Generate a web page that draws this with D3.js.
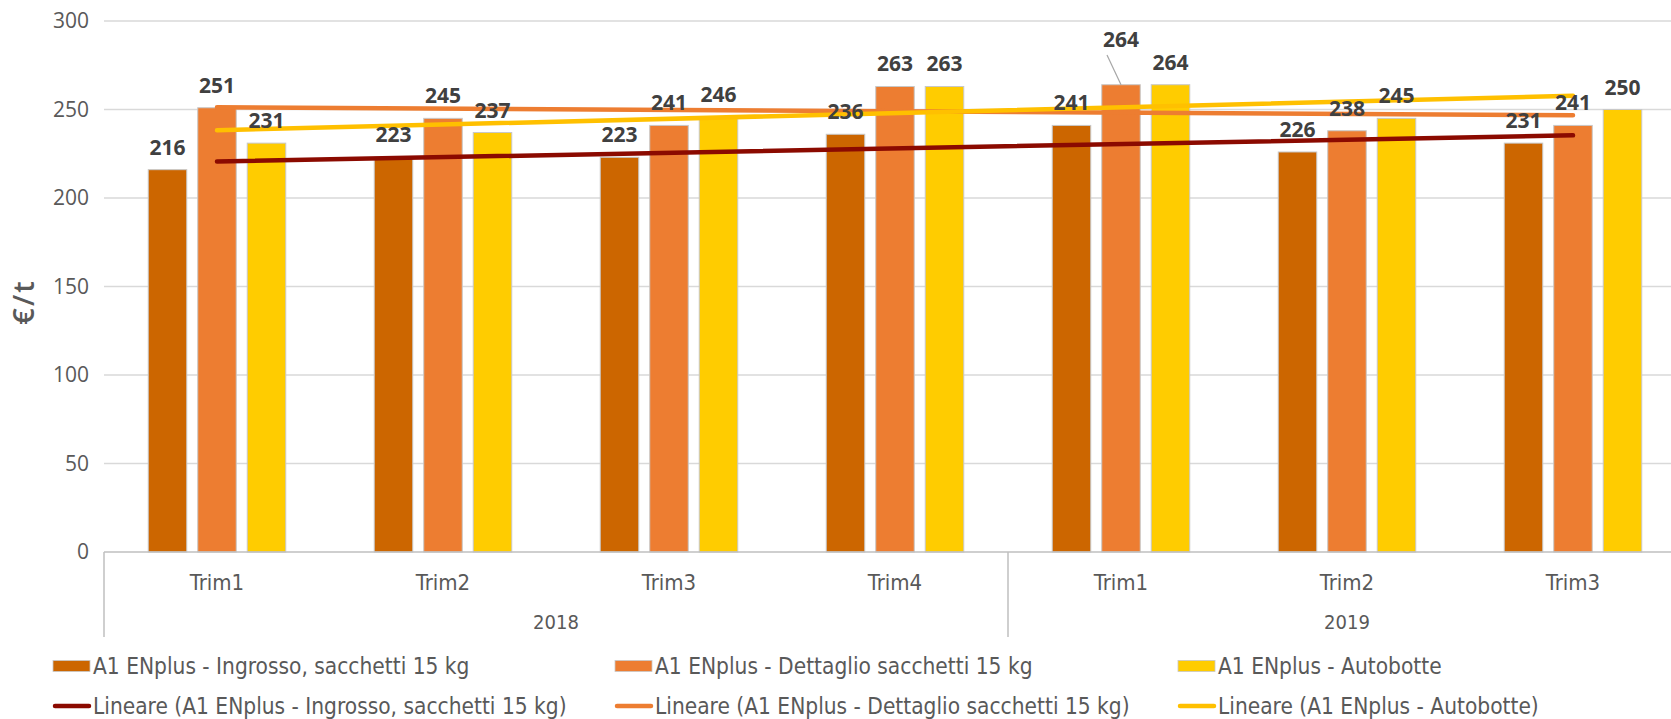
<!DOCTYPE html>
<html>
<head>
<meta charset="utf-8">
<script src="https://cdn.jsdelivr.net/npm/d3@7"></script>
<style>
  html, body { margin: 0; padding: 0; background: #fff; }
  svg { display: block; }
</style>
</head>
<body>
<svg id="chart" width="1671" height="719"></svg>
<script>
// ---- data ----
const quarters = ["Trim1", "Trim2", "Trim3", "Trim4", "Trim1", "Trim2", "Trim3"];
const years = ["2018", "2018", "2018", "2018", "2019", "2019", "2019"];
const seriesNames = [
  "A1 ENplus - Ingrosso, sacchetti 15 kg",
  "A1 ENplus - Dettaglio sacchetti 15 kg",
  "A1 ENplus - Autobotte"
];
const ingrosso  = [216, 223, 223, 236, 241, 226, 231];
const dettaglio = [251, 245, 241, 263, 264, 238, 241];
const autobotte = [231, 237, 246, 263, 264, 245, 250];
const yTicks = [0, 50, 100, 150, 200, 250, 300];
const trendNames = [
  "Lineare (A1 ENplus - Ingrosso, sacchetti 15 kg)",
  "Lineare (A1 ENplus - Dettaglio sacchetti 15 kg)",
  "Lineare (A1 ENplus - Autobotte)"
];
const barColors = ["#CC6600", "#ED7D31", "#FFCC00"];
const trendColors = ["#8B0A00", "#ED7D31", "#FFC000"];

const allSeries = [ingrosso, dettaglio, autobotte];

// ---- layout ----
const svg = d3.select("#chart");
const left = 104, band = 226;
const x = d3.scaleBand().domain(d3.range(quarters.length))
  .range([left, left + band * quarters.length]).paddingInner(0).paddingOuter(0);
const y = d3.scaleLinear().domain([0, 300]).range([552, 21]);
const inner = d3.scaleBand().domain(d3.range(3)).range([-68.75, 68.75]).paddingInner(11 / 49.5).paddingOuter(0);

// gridlines
svg.append("g").selectAll("line").data(yTicks.filter(d => d > 0)).join("line")
  .attr("x1", left).attr("x2", 1671)
  .attr("y1", d => y(d)).attr("y2", d => y(d))
  .attr("stroke", "#D9D9D9").attr("stroke-width", 1.5);

// y tick labels
svg.append("g").selectAll("text").data(yTicks).join("text")
  .attr("x", 89).attr("y", d => y(d)).attr("dy", "0.35em")
  .attr("text-anchor", "end")
  .attr("font-family", "Open Sans, sans-serif").attr("font-size", 21)
  .attr("fill", "#595959").text(d => d);

// y title
svg.append("text")
  .attr("transform", "translate(34,302) rotate(-90)")
  .attr("text-anchor", "middle")
  .attr("font-family", "Open Sans, sans-serif").attr("font-size", 29).attr("font-weight", 600)
  .attr("letter-spacing", 2)
  .attr("fill", "#595959").text("€/t");

// bars
allSeries.forEach((vals, s) => {
  svg.append("g").selectAll("rect").data(vals).join("rect")
    .attr("x", (d, i) => x(i) + x.bandwidth() / 2 + inner(s))
    .attr("width", inner.bandwidth())
    .attr("y", d => y(d))
    .attr("height", d => y(0) - y(d))
    .attr("fill", barColors[s])
    .attr("stroke", "#C8C8C8").attr("stroke-width", 1);
});

// axis line & separators
svg.append("line").attr("x1", left).attr("x2", 1671).attr("y1", y(0)).attr("y2", y(0))
  .attr("stroke", "#BFBFBF").attr("stroke-width", 1.5);
const seps = [0, 4];
svg.append("g").selectAll("line").data(seps).join("line")
  .attr("x1", d => x(d)).attr("x2", d => x(d))
  .attr("y1", y(0)).attr("y2", 637)
  .attr("stroke", "#BFBFBF").attr("stroke-width", 1.5);

// category labels
svg.append("g").selectAll("text").data(quarters).join("text")
  .attr("x", (d, i) => x(i) + x.bandwidth() / 2).attr("y", 590)
  .attr("text-anchor", "middle")
  .attr("font-family", "DejaVu Sans Condensed, DejaVu Sans, sans-serif").attr("font-size", 22)
  .attr("fill", "#595959").text(d => d);

// year labels
const yearGroups = d3.groups(years.map((yr, i) => ({yr, i})), d => d.yr);
svg.append("g").selectAll("text").data(yearGroups).join("text")
  .attr("x", d => (x(d[1][0].i) + x(d[1][d[1].length - 1].i) + x.bandwidth()) / 2)
  .attr("y", 629)
  .attr("text-anchor", "middle")
  .attr("font-family", "DejaVu Sans Condensed, DejaVu Sans, sans-serif").attr("font-size", 20)
  .attr("fill", "#595959").text(d => d[0]);

// trend lines (least squares, as the chart's "Lineare" trendlines)
function linfit(vals) {
  const n = vals.length, xs = d3.range(1, n + 1);
  const mx = d3.mean(xs), my = d3.mean(vals);
  const b = d3.sum(xs, (xi, k) => (xi - mx) * (vals[k] - my)) / d3.sum(xs, xi => (xi - mx) ** 2);
  return xi => my + b * (xi - mx);
}
allSeries.forEach((vals, s) => {
  const f = linfit(vals);
  const n = vals.length;
  svg.append("line")
    .attr("x1", x(0) + x.bandwidth() / 2).attr("y1", y(f(1)))
    .attr("x2", x(n - 1) + x.bandwidth() / 2).attr("y2", y(f(n)))
    .attr("stroke", trendColors[s]).attr("stroke-width", 4.5).attr("stroke-linecap", "round");
});

// data labels
allSeries.forEach((vals, s) => {
  svg.append("g").selectAll("text").data(vals).join("text")
    .attr("x", (d, i) => x(i) + x.bandwidth() / 2 + inner(s) + inner.bandwidth() / 2)
    .attr("y", (d, i) => (s === 1 && i === 4) ? 47 : y(d) - 15)
    .attr("text-anchor", "middle")
    .attr("font-family", "Open Sans, sans-serif").attr("font-size", 21).attr("font-weight", 700)
    .attr("fill", "#404040").text(d => d);
});
// leader line for the displaced label
{
  const cx = x(4) + x.bandwidth() / 2 + inner(1) + inner.bandwidth() / 2;
  svg.append("line").attr("x1", cx - 14).attr("y1", 55).attr("x2", cx).attr("y2", y(dettaglio[4]))
    .attr("stroke", "#A6A6A6").attr("stroke-width", 1.2);
}

// legend
const legCols = [53, 615, 1178];
const legRows = [666, 706];
const legFont = "DejaVu Sans Condensed, DejaVu Sans, sans-serif";
seriesNames.forEach((name, s) => {
  const g = svg.append("g");
  g.append("rect").attr("x", legCols[s]).attr("y", legRows[0] - 5.5).attr("width", 37).attr("height", 11)
    .attr("fill", barColors[s]).attr("stroke", "#C8C8C8").attr("stroke-width", 0.8);
  g.append("text").attr("x", legCols[s] + 40).attr("y", legRows[0]).attr("dy", "0.35em")
    .attr("font-family", legFont).attr("font-size", 22.5)
    .attr("fill", "#595959").text(name);
});
trendNames.forEach((name, s) => {
  const g = svg.append("g");
  g.append("line").attr("x1", legCols[s] + 2).attr("x2", legCols[s] + 36)
    .attr("y1", legRows[1]).attr("y2", legRows[1])
    .attr("stroke", trendColors[s]).attr("stroke-width", 4.5).attr("stroke-linecap", "round");
  g.append("text").attr("x", legCols[s] + 40).attr("y", legRows[1]).attr("dy", "0.35em")
    .attr("font-family", legFont).attr("font-size", 22.5)
    .attr("fill", "#595959").text(name);
});
</script>
</body>
</html>
